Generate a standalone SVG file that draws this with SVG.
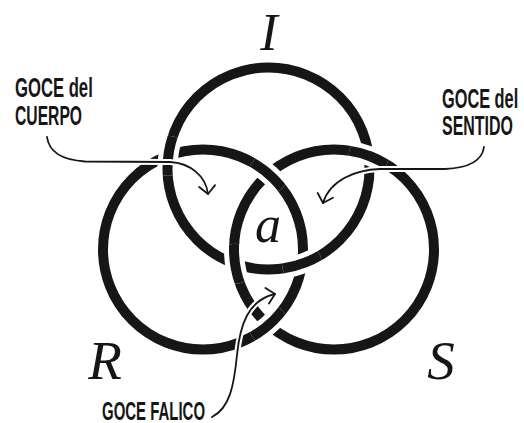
<svg xmlns="http://www.w3.org/2000/svg" width="524" height="423" viewBox="0 0 524 423">
<style>
.ring{fill:none;stroke:#161616;stroke-width:10}
.mask{fill:none;stroke:#fff;stroke-width:20}
.halo{fill:none;stroke:#fff;stroke-width:6}
.arr{fill:none;stroke:#161616;stroke-width:1.8;stroke-linecap:round}
.lbl{font-family:"Liberation Sans",Arial,sans-serif;font-weight:bold;font-size:28.5px;fill:#161616}
.sm{font-size:25.5px}
.sym{font-family:"Liberation Serif","Times New Roman",serif;font-style:italic;fill:#161616;text-anchor:middle}
</style>
<defs>
<marker id="ah" viewBox="0 0 20 20" refX="10" refY="10" markerWidth="20" markerHeight="20" markerUnits="userSpaceOnUse" orient="auto">
<path d="M2,2 L10,10 L2,18" fill="none" stroke="#161616" stroke-width="1.8" stroke-linecap="round" stroke-linejoin="round"/>
</marker>
<circle id="cI" cx="268.5" cy="168.5" r="101"/>
<circle id="cR" cx="203" cy="249.5" r="100"/>
<circle id="cS" cx="334" cy="249.5" r="100"/>
<clipPath id="k1"><circle cx="168.3" cy="155.7" r="20"/></clipPath>
<clipPath id="k2"><circle cx="302" cy="263.8" r="20"/></clipPath>
<clipPath id="k3"><circle cx="268.5" cy="173.9" r="20"/></clipPath>
<clipPath id="k4"><circle cx="268.5" cy="325.1" r="20"/></clipPath>
<clipPath id="k5"><circle cx="368.7" cy="155.7" r="20"/></clipPath>
<clipPath id="k6"><circle cx="235" cy="263.8" r="20"/></clipPath>
<path id="p1" d="M47,137 C49,152 62,160 85,161.5 L170,162 C190,163 206,176 208,194"/>
<path id="p2" d="M484,147 C482,162 468,168 445,169 L380,169 C355,170 330,180 323,203"/>
<path id="p3" d="M212,417 C230,408 234,385 237,355 C240,325 248,300 275,294"/>
</defs>

<g id="node-I">
<use href="#cI" class="ring"/>
<text class="sym" x="269" y="50" font-size="52">I</text>
</g>
<g id="node-R">
<use href="#cR" class="ring"/>
<text class="sym" x="105" y="379" font-size="55">R</text>
</g>
<g id="node-S">
<use href="#cS" class="ring"/>
<text class="sym" x="441" y="379" font-size="55">S</text>
</g>

<g id="crossings">
<g clip-path="url(#k1)"><use href="#cI" class="mask"/><use href="#cI" class="ring"/></g>
<g clip-path="url(#k2)"><use href="#cI" class="mask"/><use href="#cI" class="ring"/></g>
<g clip-path="url(#k3)"><use href="#cR" class="mask"/><use href="#cR" class="ring"/></g>
<g clip-path="url(#k4)"><use href="#cR" class="mask"/><use href="#cR" class="ring"/></g>
<g clip-path="url(#k5)"><use href="#cS" class="mask"/><use href="#cS" class="ring"/></g>
<g clip-path="url(#k6)"><use href="#cS" class="mask"/><use href="#cS" class="ring"/></g>
</g>

<g id="node-a">
<text class="sym" x="268" y="242" font-size="52">a</text>
</g>

<g id="connectors">
<use href="#p1" class="halo"/>
<use href="#p2" class="halo"/>
<use href="#p3" class="halo"/>
<path class="arr" d="M47,137 C49,152 62,160 85,161.5 L170,162 C190,163 206,176 208,194" marker-end="url(#ah)"/>
<path class="arr" d="M484,147 C482,162 468,168 445,169 L380,169 C355,170 330,180 323,203" marker-end="url(#ah)"/>
<path class="arr" d="M212,417 C230,408 234,385 237,355 C240,325 248,300 275,294" marker-end="url(#ah)"/>
</g>

<g id="label-cuerpo">
<text class="lbl" transform="translate(15,97) scale(0.585,1)">GOCE del</text>
<text class="lbl" transform="translate(15,125) scale(0.55,1)">CUERPO</text>
</g>
<g id="label-sentido">
<text class="lbl" transform="translate(442,108) scale(0.573,1)">GOCE del</text>
<text class="lbl" transform="translate(442,135) scale(0.56,1)">SENTIDO</text>
</g>
<g id="label-falico">
<text class="lbl sm" transform="translate(102,420) scale(0.587,1)">GOCE FALICO</text>
</g>
</svg>
